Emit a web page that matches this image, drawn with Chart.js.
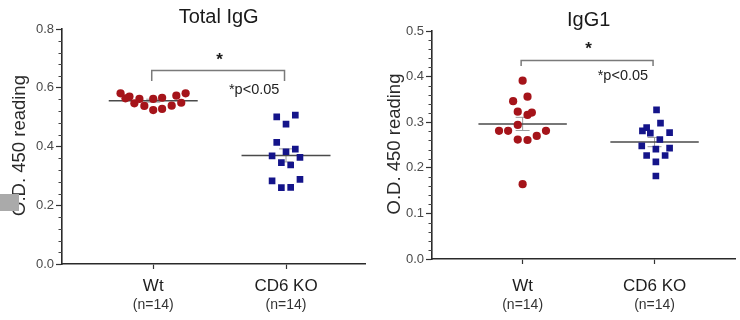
<!DOCTYPE html>
<html><head><meta charset="utf-8">
<script src="https://cdn.jsdelivr.net/npm/chart.js@4.4.1/dist/chart.umd.min.js"></script>
<style>
html,body{margin:0;padding:0;background:#fff;}
#wrap{position:relative;width:740px;height:320px;overflow:hidden;background:#fff;}
.c{position:absolute;top:0;width:370px;height:320px;}
#artifact{position:absolute;left:0;top:194px;width:19px;height:17px;background:#aaaaaa;}
</style></head><body>
<div id="wrap">
<div class="c" style="left:0"><canvas id="c1" width="370" height="320"></canvas></div>
<div class="c" style="left:370px"><canvas id="c2" width="370" height="320"></canvas></div>
<div id="artifact"></div>
</div>
<script>
// ---- data ----
const groups = ['Wt', 'CD6 KO'];
const groupN = ['(n=14)', '(n=14)'];

const titleIgG = 'Total IgG';
const iggWt = [0.581,0.564,0.570,0.547,0.562,0.538,0.562,0.524,0.566,0.528,0.539,0.573,0.549,0.581];
const iggWtOffset = [-0.246,-0.209,-0.179,-0.142,-0.104,-0.067,0,0,0.067,0.067,0.139,0.174,0.211,0.244];
const iggKo = [0.501,0.507,0.476,0.414,0.382,0.391,0.368,0.363,0.345,0.337,0.283,0.288,0.260,0.261];
const iggKoOffset = [-0.07,0.07,0,-0.07,0,0.07,-0.105,0.105,-0.035,0.035,-0.105,0.105,-0.035,0.035];
const iggTicks = [0.0,0.2,0.4,0.6,0.8];

const titleIgG1 = 'IgG1';
const igg1Wt = [0.391,0.346,0.356,0.323,0.316,0.321,0.294,0.281,0.281,0.262,0.261,0.270,0.281,0.164];
const igg1WtOffset = [0,-0.072,0.037,-0.037,0.037,0.07,-0.037,-0.179,-0.11,-0.037,0.037,0.107,0.177,0];
const igg1Ko = [0.327,0.298,0.281,0.288,0.276,0.277,0.262,0.248,0.241,0.243,0.227,0.227,0.213,0.182];
const igg1KoOffset = [0.015,0.045,-0.092,-0.06,-0.032,0.114,0.04,-0.097,0.01,0.114,-0.06,0.08,0.01,0.01];
const igg1Ticks = [0.0,0.1,0.2,0.3,0.4,0.5];

const yTitle = 'O.D. 450 reading';
const sigStar = '*';
const sigText = '*p<0.05';

// ---- helpers ----
const FONT = '"Liberation Sans", Arial, sans-serif';
const RED = '#a5141a';
const BLUE = '#14148a';

function toPoints(vals, offs, idx){ return vals.map((v,i)=>({x: idx + offs[i], y: v})); }
function mean(a){ return a.reduce((s,v)=>s+v,0)/a.length; }
function sem(a){ const m=mean(a); const sd=Math.sqrt(a.reduce((s,v)=>s+(v-m)*(v-m),0)/(a.length-1)); return sd/Math.sqrt(a.length); }

function makeChart(id, cfg){
  const overlay = {
    id: 'overlay_'+id,
    beforeDatasetsDraw(chart){
      const ctx = chart.ctx, xs = chart.scales.x, ys = chart.scales.y;
      [cfg.wt, cfg.ko].forEach((vals, gi)=>{
        const m = mean(vals), e = sem(vals);
        const cx = xs.getPixelForValue(gi);
        ctx.save();
        ctx.strokeStyle = '#9a9a9a'; ctx.lineWidth = 1;
        const yt = ys.getPixelForValue(m+e), yb = ys.getPixelForValue(m-e);
        ctx.beginPath();
        ctx.moveTo(cx, yt); ctx.lineTo(cx, yb);
        ctx.moveTo(cx-7, yt); ctx.lineTo(cx+7, yt);
        ctx.moveTo(cx-7, yb); ctx.lineTo(cx+7, yb);
        ctx.stroke();
        ctx.strokeStyle = '#4a4a4a'; ctx.lineWidth = 1.5;
        const ym = ys.getPixelForValue(m);
        ctx.beginPath();
        ctx.moveTo(xs.getPixelForValue(gi-0.335), ym);
        ctx.lineTo(xs.getPixelForValue(gi+0.335), ym);
        ctx.stroke();
        ctx.restore();
      });
    },
    afterDraw(chart){
      const ctx = chart.ctx, xs = chart.scales.x, ys = chart.scales.y, ca = chart.chartArea;
      ctx.save();
      ctx.strokeStyle = '#444'; ctx.lineWidth = 1;
      const yMax = cfg.ticks[cfg.ticks.length-1];
      const nMinor = Math.round(yMax / cfg.minor);
      ctx.beginPath();
      for (let k=1;k<nMinor;k++){
        if (k % cfg.perMajor === 0) continue;
        const y = Math.round(ys.getPixelForValue(k*cfg.minor)) + 0.5;
        ctx.moveTo(ca.left-3.5, y); ctx.lineTo(ca.left, y);
      }
      ctx.stroke();
      ctx.fillStyle = '#1a1a1a';
      ctx.font = '20px ' + FONT;
      ctx.textAlign = 'center'; ctx.textBaseline = 'middle';
      ctx.fillText(cfg.title, (ca.left+ca.right)/2 + cfg.titleDx, ca.top - cfg.titleDy);
      ctx.save();
      ctx.translate(ca.left - cfg.yTitleDx, (ca.top+ca.bottom)/2 - 1);
      ctx.rotate(-Math.PI/2);
      ctx.font = '18.5px ' + FONT;
      ctx.fillStyle = '#2a2a2a';
      ctx.fillText(yTitle, 0, 0);
      ctx.restore();
      groups.forEach((g, gi)=>{
        const x = xs.getPixelForValue(gi);
        ctx.fillStyle = '#1e1e1e';
        ctx.font = '17px ' + FONT;
        ctx.fillText(g, x, chart.height - 34);
        ctx.font = '14px ' + FONT;
        ctx.fillStyle = '#333';
        ctx.fillText(groupN[gi], x, chart.height - 15);
      });
      const bx0 = xs.getPixelForValue(0) - 1.5, bx1 = xs.getPixelForValue(1) - 1.5;
      const by = Math.round(ys.getPixelForValue(cfg.sigY)) + 0.5;
      const byd = ys.getPixelForValue(cfg.sigY - cfg.sigDrop);
      ctx.strokeStyle = '#7a7a7a'; ctx.lineWidth = 1.5;
      ctx.beginPath();
      ctx.moveTo(bx0, byd); ctx.lineTo(bx0, by); ctx.lineTo(bx1, by); ctx.lineTo(bx1, byd);
      ctx.stroke();
      ctx.fillStyle = '#1a1a1a';
      ctx.font = 'bold 17px ' + FONT;
      ctx.fillText(sigStar, xs.getPixelForValue(0.5), ys.getPixelForValue(cfg.starY));
      ctx.font = '14.5px ' + FONT;
      ctx.fillStyle = '#222';
      ctx.fillText(sigText, xs.getPixelForValue(0.76), ys.getPixelForValue(cfg.pY));
      ctx.restore();
    }
  };

  return new Chart(document.getElementById(id), {
    type: 'scatter',
    data: {
      datasets: [
        { data: toPoints(cfg.wt, cfg.wtOff, 0), pointStyle: 'circle', pointRadius: 4.1,
          backgroundColor: RED, borderColor: RED, borderWidth: 0 },
        { data: toPoints(cfg.ko, cfg.koOff, 1), pointStyle: 'rect', pointRadius: 4.7,
          backgroundColor: BLUE, borderColor: BLUE, borderWidth: 0 }
      ]
    },
    options: {
      responsive: false, animation: false, devicePixelRatio: 1,
      layout: { padding: { top: cfg.top, right: cfg.right, left: 0, bottom: 0 } },
      plugins: { legend: { display: false }, tooltip: { enabled: false }, title: { display: false } },
      scales: {
        x: {
          type: 'linear', min: -0.687, max: cfg.xMax,
          afterBuildTicks: s => { s.ticks = [{value:0},{value:1}]; },
          afterFit: s => { s.height = 320 - cfg.bottom; },
          ticks: { display: false },
          grid: { drawOnChartArea: false, drawTicks: true, tickLength: 5, color: '#333', tickWidth: 1.2 },
          border: { display: true, color: '#2a2a2a', width: 1.6 }
        },
        y: {
          min: 0, max: cfg.ticks[cfg.ticks.length-1],
          afterBuildTicks: s => { s.ticks = cfg.ticks.map(v=>({value:v})); },
          afterFit: s => { s.width = 62; },
          ticks: { color: '#4a4a4a', font: { family: FONT, size: 13 }, padding: 2,
                   callback: v => Number(v).toFixed(1) },
          grid: { drawOnChartArea: false, drawTicks: true, tickLength: 6, color: '#333', tickWidth: 1.2 },
          border: { display: true, color: '#2a2a2a', width: 1.6 }
        }
      }
    },
    plugins: [overlay]
  });
}

makeChart('c1', {
  title: titleIgG, wt: iggWt, wtOff: iggWtOffset, ko: iggKo, koOff: iggKoOffset,
  ticks: iggTicks, minor: 0.04, perMajor: 5,
  top: 29, bottom: 264, right: 2, xMax: 1.597,
  titleDx: 5, titleDy: 12, yTitleDx: 42,
  sigY: 0.66, sigDrop: 0.037, starY: 0.694, pY: 0.592
});
makeChart('c2', {
  title: titleIgG1, wt: igg1Wt, wtOff: igg1WtOffset, ko: igg1Ko, koOff: igg1KoOffset,
  ticks: igg1Ticks, minor: 0.02, perMajor: 5,
  top: 31, bottom: 259, right: 0, xMax: 1.612,
  titleDx: 5, titleDy: 11, yTitleDx: 37,
  sigY: 0.436, sigDrop: 0.013, starY: 0.46, pY: 0.401
});
</script>
</body></html>
